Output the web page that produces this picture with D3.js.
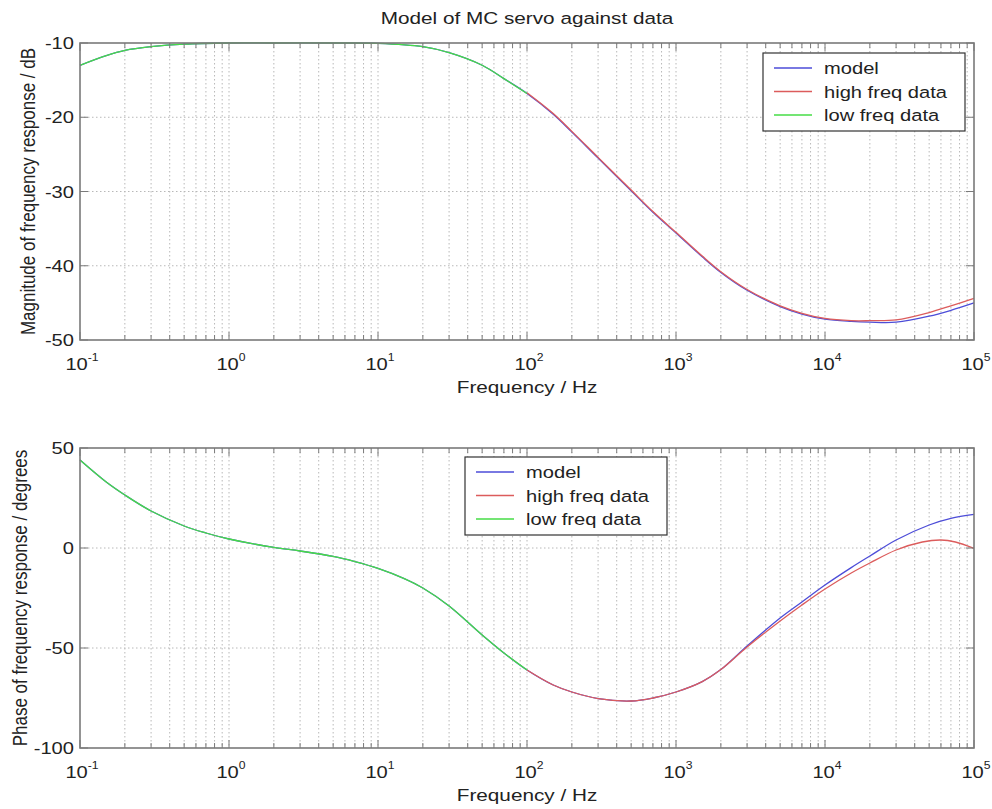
<!DOCTYPE html>
<html>
<head>
<meta charset="utf-8">
<script src="https://cdn.jsdelivr.net/npm/d3@7"></script>
<style>
  body { margin: 0; background: #fff; }
  text { font-family: "Liberation Sans", Arial, sans-serif; fill: #222; }
</style>
</head>
<body>
<div id="viz"></div>
<script>
// ========================================
// Data
// ========================================

var series_names = ['model', 'high freq data', 'low freq data'];
var series_colors = ['#4d4dd8', '#dc5c5c', '#46dc46'];

// magnitude / dB
var mag_model_freq = [0.1, 0.15, 0.2, 0.3, 0.5, 1, 2, 5, 10, 20, 30, 50, 70, 100, 150, 200, 300, 500, 700,
                      1000, 1500, 2000, 3000, 5000, 7000, 10000, 15000, 20000, 30000, 50000, 70000, 100000];
var mag_model = [-13.0, -11.7, -11.0, -10.5, -10.15, -10.0, -10.0, -10.0, -10.05, -10.5, -11.3, -13.0, -14.8, -16.8,
                 -19.6, -22.0, -25.5, -29.9, -32.8, -35.6, -38.8, -40.9, -43.3, -45.5, -46.5, -47.2, -47.5, -47.6,
                 -47.6, -46.8, -46.0, -45.0];

var mag_high_freq = [100, 150, 200, 300, 500, 700, 1000, 1500, 2000, 3000, 5000, 7000, 10000, 15000, 20000,
                     30000, 50000, 70000, 100000];
var mag_high = [-16.7, -19.5, -21.9, -25.4, -29.8, -32.7, -35.5, -38.7, -40.8, -43.2, -45.4, -46.4, -47.1, -47.4,
                -47.4, -47.3, -46.3, -45.4, -44.4];

var mag_low_freq = [0.1, 0.15, 0.2, 0.3, 0.5, 1, 2, 5, 10, 20, 30, 50, 70, 100];
var mag_low = [-13.0, -11.7, -11.0, -10.5, -10.15, -10.0, -10.0, -10.0, -10.05, -10.5, -11.3, -13.0, -14.8, -16.8];

// phase / degrees
var ph_model_freq = [0.1, 0.15, 0.2, 0.3, 0.5, 0.7, 1, 2, 3, 5, 7, 10, 15, 20, 30, 50, 70, 100, 150, 200, 300, 500,
                     700, 1000, 1500, 2000, 3000, 5000, 7000, 10000, 15000, 20000, 30000, 50000, 70000, 100000];
var ph_model = [44, 33, 26.5, 18.5, 11, 7.5, 4.5, 0.3, -1.5, -4.2, -6.8, -10.2, -15.3, -20, -29, -43.5, -52.5, -61,
                -68.5, -72, -75.3, -76.5, -75, -72, -66.8, -60.8, -49, -35, -27, -18.5, -9.8, -4, 4, 11.5, 14.8,
                16.8];

var ph_high_freq = [100, 150, 200, 300, 500, 700, 1000, 1500, 2000, 3000, 5000, 7000, 10000, 15000, 20000,
                    30000, 45000, 60000, 75000, 100000];
var ph_high = [-61, -68.5, -72, -75.3, -76.5, -75, -72, -66.8, -60.8, -49.5, -36.5, -28.5, -20.5, -12.5, -7.5,
               -1, 3, 4, 3, -0.2];

var ph_low_freq = [0.1, 0.15, 0.2, 0.3, 0.5, 0.7, 1, 2, 3, 5, 7, 10, 15, 20, 30, 50, 70, 100];
var ph_low = [44, 33, 26.5, 18.5, 11, 7.5, 4.5, 0.3, -1.5, -4.2, -6.8, -10.2, -15.3, -20, -29, -43.5, -52.5, -61];

var x_domain = [0.1, 100000];
var mag_ticks = [-50, -40, -30, -20, -10];
var ph_ticks = [-100, -50, 0, 50];
var decade_exps = [-1, 0, 1, 2, 3, 4, 5];

var title_text = 'Model of MC servo against data';
var x_label = 'Frequency / Hz';
var mag_label = 'Magnitude of frequency response / dB';
var ph_label = 'Phase of frequency response / degrees';

// ========================================
// SVG
// ========================================

var width = 992, height = 809;
var sx = 1.22;   // reference text is slightly wider than tall
var frame_color = '#7a7a7a',
    grid_color = '#b8b8b8';

var svg = d3.select('#viz').append('svg')
   .attr('width', width)
   .attr('height', height);

// text helper, horizontally stretched around its anchor point
function label(g, x, y, str, size, anchor, rot) {
   return g.append('text')
      .attr('transform', `translate(${x},${y}) scale(${sx},1)` + (rot ? ` rotate(${rot})` : ''))
      .attr('text-anchor', anchor)
      .style('font-size', size + 'px')
      .text(str);
}

label(svg, 527, 24, title_text, 17, 'middle');

function drawPanel(cfg) {
   var x = d3.scaleLog().domain(x_domain).range([80, 974]);
   var y = d3.scaleLinear().domain(cfg.y_domain).range([cfg.bottom, cfg.top]);
   var g = svg.append('g');

   var minor = [];
   decade_exps.forEach(e => {
      if (e < 5) for (var k = 2; k <= 9; k++) minor.push(k * Math.pow(10, e));
   });
   var majors = decade_exps.map(e => Math.pow(10, e));

   // grid
   g.selectAll('.vgrid')
      .data(minor.concat(majors.slice(1, -1)))
      .enter().append('line')
      .attr('x1', d => x(d)).attr('x2', d => x(d))
      .attr('y1', cfg.top).attr('y2', cfg.bottom)
      .style('stroke', grid_color)
      .style('stroke-width', 1)
      .style('stroke-dasharray', '1.5,2.5');

   g.selectAll('.hgrid')
      .data(cfg.ticks.slice(1, -1))
      .enter().append('line')
      .attr('x1', 80).attr('x2', 974)
      .attr('y1', d => y(d)).attr('y2', d => y(d))
      .style('stroke', grid_color)
      .style('stroke-width', 1)
      .style('stroke-dasharray', '1.5,2.5');

   // curves
   var line = d3.line()
      .x(d => x(d[0]))
      .y(d => y(d[1]))
      .curve(d3.curveCatmullRom.alpha(0.5));

   cfg.series.forEach((s, i) => {
      g.append('path')
         .datum(s.f.map((f, j) => [f, s.v[j]]))
         .attr('d', line)
         .style('fill', 'none')
         .style('stroke', series_colors[i])
         .style('stroke-width', 1.3);
   });

   // ticks on all four sides
   var tick_g = g.append('g').style('stroke', frame_color).style('stroke-width', 1);
   majors.concat(minor).forEach(d => {
      var len = majors.indexOf(d) >= 0 ? 8 : 5;
      tick_g.append('line').attr('x1', x(d)).attr('x2', x(d)).attr('y1', cfg.bottom).attr('y2', cfg.bottom - len);
      tick_g.append('line').attr('x1', x(d)).attr('x2', x(d)).attr('y1', cfg.top).attr('y2', cfg.top + len);
   });
   cfg.ticks.forEach(d => {
      tick_g.append('line').attr('x1', 80).attr('x2', 88).attr('y1', y(d)).attr('y2', y(d));
      tick_g.append('line').attr('x1', 974).attr('x2', 966).attr('y1', y(d)).attr('y2', y(d));
   });

   // frame
   g.append('rect')
      .attr('x', 80).attr('y', cfg.top)
      .attr('width', 894).attr('height', cfg.bottom - cfg.top)
      .style('fill', 'none')
      .style('stroke', frame_color)
      .style('stroke-width', 1.6);

   // y tick labels
   cfg.ticks.forEach(d => {
      label(g, 74, y(d) + 6, d, 16.5, 'end');
   });

   // x tick labels: 10 with superscript exponent
   decade_exps.forEach(e => {
      var t = label(g, x(Math.pow(10, e)) + 2, cfg.bottom + 30, '', 16.5, 'middle');
      t.append('tspan').text('10');
      t.append('tspan').attr('dy', -9).style('font-size', '10px').text(e);
   });

   label(g, 527, cfg.bottom + 53, x_label, 17, 'middle');
   label(g, cfg.ylabel_x, (cfg.top + cfg.bottom) / 2, cfg.ylabel, 17, 'middle', -90);

   // legend
   var lg = g.append('g').attr('transform', `translate(${cfg.legend_x},${cfg.legend_y})`);
   lg.append('rect')
      .attr('width', 202).attr('height', 78)
      .style('fill', '#fff')
      .style('stroke', '#333')
      .style('stroke-width', 1.2);
   series_names.forEach((name, i) => {
      var ly = 15 + i * 23.5;
      lg.append('line')
         .attr('x1', 11).attr('x2', 49)
         .attr('y1', ly).attr('y2', ly)
         .style('stroke', series_colors[i])
         .style('stroke-width', 1.3);
      label(lg, 61, ly + 6, name, 16.5, 'start');
   });
}

drawPanel({
   top: 43, bottom: 340,
   y_domain: [-50, -10],
   ticks: mag_ticks,
   ylabel: mag_label, ylabel_x: 35,
   legend_x: 763, legend_y: 53,
   series: [
      {f: mag_model_freq, v: mag_model},
      {f: mag_high_freq, v: mag_high},
      {f: mag_low_freq, v: mag_low}
   ]
});

drawPanel({
   top: 448, bottom: 748,
   y_domain: [-100, 50],
   ticks: ph_ticks,
   ylabel: ph_label, ylabel_x: 27,
   legend_x: 465, legend_y: 457,
   series: [
      {f: ph_model_freq, v: ph_model},
      {f: ph_high_freq, v: ph_high},
      {f: ph_low_freq, v: ph_low}
   ]
});
</script>
</body>
</html>
